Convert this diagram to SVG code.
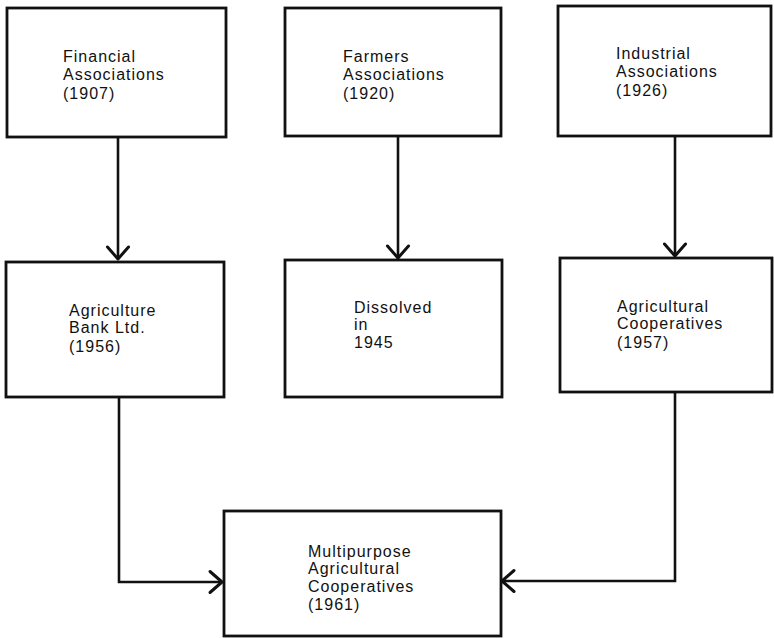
<svg xmlns="http://www.w3.org/2000/svg" width="774" height="638" viewBox="0 0 774 638">
  <style>
    .box { fill: #ffffff; stroke: #111111; stroke-width: 2.8; }
    .lbl { font-family: "Liberation Sans", Arial, sans-serif; font-size: 16px; letter-spacing: 1px; fill: #111111; }
    .con { fill: none; stroke: #111111; stroke-width: 2.6; }
  </style>
  <defs>
    <marker id="arrow" markerUnits="userSpaceOnUse" viewBox="-16 -16 32 32" markerWidth="32" markerHeight="32" refX="0" refY="0" orient="auto">
      <path d="M-12,-10.5 L0,0 L-12,10.5" fill="none" stroke="#111111" stroke-width="3" stroke-linejoin="round" stroke-linecap="round"/>
    </marker>
  </defs>
  <rect width="774" height="638" fill="#ffffff"/>

  <!-- connectors -->
  <g id="connectors">
    <path class="con" d="M118,137 L118,259" marker-end="url(#arrow)"/>
    <path class="con" d="M398,136 L398,258" marker-end="url(#arrow)"/>
    <path class="con" d="M675,136 L675,256" marker-end="url(#arrow)"/>
    <path class="con" d="M119,397 L119,582 L222,582" marker-end="url(#arrow)"/>
    <path class="con" d="M675,392 L675,581 L502,581" marker-end="url(#arrow)"/>
  </g>

  <!-- top row -->
  <g id="financial">
    <rect class="box" x="7" y="8" width="219" height="129"/>
    <text class="lbl" x="63"><tspan x="63" y="62">Financial</tspan><tspan x="63" y="80">Associations</tspan><tspan x="63" y="99">(1907)</tspan></text>
  </g>
  <g id="farmers">
    <rect class="box" x="285" y="8" width="216" height="128"/>
    <text class="lbl"><tspan x="343" y="62">Farmers</tspan><tspan x="343" y="80">Associations</tspan><tspan x="343" y="99">(1920)</tspan></text>
  </g>
  <g id="industrial">
    <rect class="box" x="558" y="6" width="213" height="130"/>
    <text class="lbl"><tspan x="616" y="59">Industrial</tspan><tspan x="616" y="77">Associations</tspan><tspan x="616" y="96">(1926)</tspan></text>
  </g>

  <!-- middle row -->
  <g id="bank">
    <rect class="box" x="6" y="262" width="218" height="135"/>
    <text class="lbl"><tspan x="69" y="316">Agriculture</tspan><tspan x="69" y="333">Bank Ltd.</tspan><tspan x="69" y="352">(1956)</tspan></text>
  </g>
  <g id="dissolved">
    <rect class="box" x="285" y="260" width="217" height="137"/>
    <text class="lbl"><tspan x="354" y="313">Dissolved</tspan><tspan x="354" y="330">in</tspan><tspan x="354" y="348">1945</tspan></text>
  </g>
  <g id="agri-coops">
    <rect class="box" x="560" y="258" width="212" height="134"/>
    <text class="lbl"><tspan x="617" y="312">Agricultural</tspan><tspan x="617" y="329">Cooperatives</tspan><tspan x="617" y="348">(1957)</tspan></text>
  </g>

  <!-- bottom -->
  <g id="multipurpose">
    <rect class="box" x="224" y="511" width="277" height="125"/>
    <text class="lbl"><tspan x="308" y="557">Multipurpose</tspan><tspan x="308" y="574">Agricultural</tspan><tspan x="308" y="592">Cooperatives</tspan><tspan x="308" y="610">(1961)</tspan></text>
  </g>
</svg>
